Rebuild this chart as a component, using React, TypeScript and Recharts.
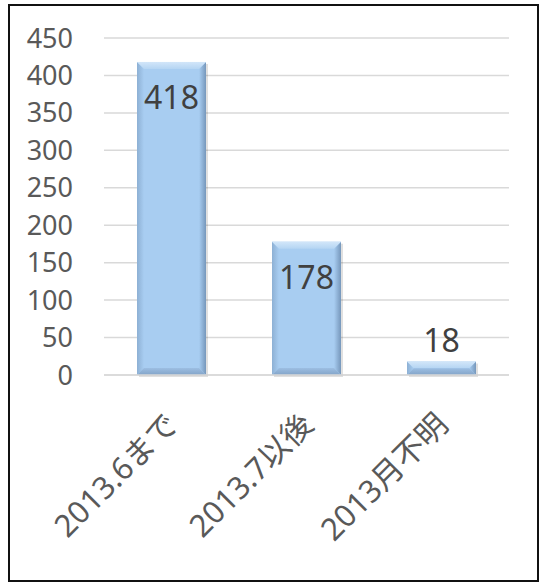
import { BarChart, Bar, XAxis, YAxis, CartesianGrid, LabelList } from "recharts";

// 期間別の件数
const categories = ["2013.6まで", "2013.7以後", "2013月不明"];
const counts = [418, 178, 18];
const yTicks = [0, 50, 100, 150, 200, 250, 300, 350, 400, 450];

const data = categories.map((name, i) => ({ name, count: counts[i] }));

const FONT = "'Noto Sans', 'Noto Sans CJK JP', sans-serif";

// Excel風のベベル付きバー
function BevelBar(props: any) {
  const { x, y, width: w, height: h } = props;
  if (!h || h <= 0) return null;
  const b = Math.min(7, h / 2, w / 2);
  return (
    <g>
      <rect x={x + 2} y={y + 2} width={w} height={h} fill="rgba(0,0,0,0.12)" />
      <rect x={x} y={y} width={w} height={h} fill="#A8CDF1" />
      <polygon
        points={`${x},${y} ${x + b},${y + b} ${x + b},${y + h - b} ${x},${y + h}`}
        fill="url(#bevelLeft)"
      />
      <polygon
        points={`${x + w},${y} ${x + w - b},${y + b} ${x + w - b},${y + h - b} ${x + w},${y + h}`}
        fill="url(#bevelRight)"
      />
      <polygon
        points={`${x},${y} ${x + w},${y} ${x + w - b},${y + b} ${x + b},${y + b}`}
        fill="url(#bevelTop)"
      />
      <polygon
        points={`${x},${y + h} ${x + w},${y + h} ${x + w - b},${y + h - b} ${x + b},${y + h - b}`}
        fill="url(#bevelBottom)"
      />
    </g>
  );
}

// 値ラベル: 入るならバー内上端、入らなければバーの上
function ValueLabel(props: any) {
  const { x, y, width, height, value } = props;
  const inside = height > 50;
  return (
    <text
      x={x + width / 2}
      y={inside ? y + 47 : y - 10}
      textAnchor="middle"
      fill="#404040"
      fontSize={32}
      fontFamily={FONT}
    >
      {value}
    </text>
  );
}

function AngledTick(props: any) {
  const { x, y, payload } = props;
  return (
    <text
      x={x}
      y={y}
      textAnchor="end"
      dominantBaseline="central"
      transform={`rotate(-45, ${x}, ${y})`}
      fill="#595959"
      fontSize={31}
      fontFamily={FONT}
    >
      {payload.value}
    </text>
  );
}

export default function App() {
  return (
    <div style={{ position: "absolute", left: 0, top: 0, width: 539, height: 584, background: "#fff" }}>
      <div
        style={{
          position: "absolute",
          left: 8,
          top: 4,
          width: 531,
          height: 578,
          border: "2px solid #111",
          boxSizing: "border-box",
        }}
      />
      <div style={{ position: "absolute", left: 0, top: 0 }}>
        <BarChart
          width={539}
          height={584}
          data={data}
          margin={{ top: 38, right: 30, bottom: 0, left: 0 }}
        >
          <defs>
            <linearGradient id="bevelLeft" x1="0" y1="0" x2="1" y2="0">
              <stop offset="0%" stopColor="#8DB0D4" />
              <stop offset="100%" stopColor="#A8CDF1" />
            </linearGradient>
            <linearGradient id="bevelRight" x1="0" y1="0" x2="1" y2="0">
              <stop offset="0%" stopColor="#A8CDF1" />
              <stop offset="100%" stopColor="#7697BB" />
            </linearGradient>
            <linearGradient id="bevelTop" x1="0" y1="0" x2="0" y2="1">
              <stop offset="0%" stopColor="#D2E6F9" />
              <stop offset="100%" stopColor="#B5D5F3" />
            </linearGradient>
            <linearGradient id="bevelBottom" x1="0" y1="0" x2="0" y2="1">
              <stop offset="0%" stopColor="#9CBEE2" />
              <stop offset="100%" stopColor="#83A4C8" />
            </linearGradient>
          </defs>
          <CartesianGrid vertical={false} stroke="#D9D9D9" strokeWidth={1.5} />
          <XAxis
            dataKey="name"
            axisLine={{ stroke: "#D9D9D9", strokeWidth: 1.5 }}
            tickLine={false}
            height={209}
            interval={0}
            tick={(p: any) => <AngledTick {...p} y={418} />}
          />
          <YAxis
            domain={[0, 450]}
            ticks={yTicks}
            width={104}
            axisLine={false}
            tickLine={false}
            tickSize={0}
            tickMargin={31}
            tick={{ fill: "#595959", fontSize: 27, fontFamily: FONT }}
          />
          <Bar dataKey="count" barSize={69} shape={<BevelBar />} isAnimationActive={false}>
            <LabelList dataKey="count" content={<ValueLabel />} />
          </Bar>
        </BarChart>
      </div>
    </div>
  );
}
